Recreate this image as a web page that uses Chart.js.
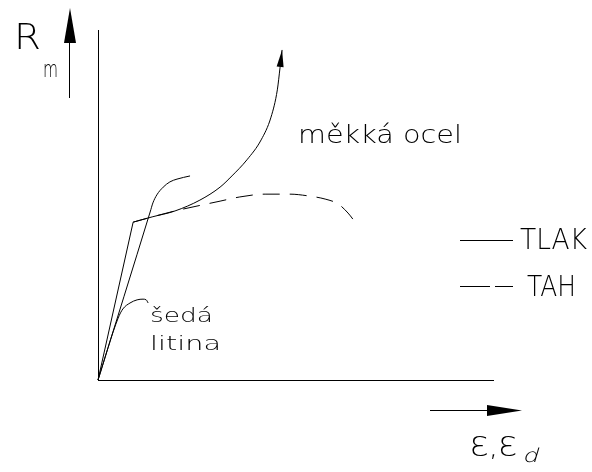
<!DOCTYPE html>
<html>
<head>
<meta charset="utf-8">
<script src="https://cdn.jsdelivr.net/npm/chart.js@4.4.1/dist/chart.umd.min.js"></script>
<style>
  html, body { margin: 0; padding: 0; background: #fff; }
  #diagram { display: block; }
</style>
</head>
<body>
<canvas id="diagram" width="592" height="472"></canvas>
<script>
// strain (x) and stress (y) in % of the axis length
const steelElasticX = [0, 8.9];
const steelElasticY = [0, 45.1];

const steelCompressionX = [8.9, 13.7, 19.5, 25.8, 30.9, 33.9, 37.7, 41.3, 43.8, 45.4, 46.1, 46.6];
const steelCompressionY = [45.1, 46.6, 48.3, 51.4, 55.1, 58.3, 62.9, 68.6, 75.1, 82.9, 89.4, 94.3];

const steelTensionX = [8.9, 13.7, 19.5, 26.3, 30.9, 35.9, 42.3, 48.6, 53.2, 57.5, 60.8, 63.3, 65.1];
const steelTensionY = [45.1, 46.6, 48.3, 50.0, 51.1, 52.3, 53.1, 53.1, 52.6, 51.7, 50.3, 47.7, 45.1];

const ironCompressionX = [0, 13.2, 13.9, 14.9, 16.5, 18.2, 20.0, 23.3];
const ironCompressionY = [0, 48.0, 50.6, 52.9, 55.1, 56.6, 57.4, 58.3];

const ironTensionX = [0, 5.1, 6.3, 8.1, 9.9, 11.4, 12.2, 12.7];
const ironTensionY = [0, 17.7, 20.3, 22.0, 22.9, 23.1, 22.9, 22.0];

const toPoints = (xs, ys) => xs.map((x, i) => ({ x: x, y: ys[i] }));

const FONT = '"DejaVu Sans", sans-serif';

/**
 * Draws text stretched to a given width, so the thin lettering
 * keeps the wide proportions of a plotter font
 */
const cadText = (ctx, str, x, y, size, width, skew) => {
  ctx.save();
  ctx.font = "200 " + size + "px " + FONT;
  ctx.textBaseline = "alphabetic";
  ctx.textAlign = "left";
  const natural = ctx.measureText(str).width;
  ctx.translate(x, y);
  if (skew) ctx.transform(1, 0, -skew, 1, 0, 0);
  ctx.scale(width / natural, 1);
  ctx.fillStyle = "#000";
  ctx.fillText(str, 0, 0);
  ctx.restore();
};

const arrowHead = (ctx, tipX, tipY, angle, len, half) => {
  ctx.save();
  ctx.translate(tipX, tipY);
  ctx.rotate(angle);
  ctx.beginPath();
  ctx.moveTo(0, 0);
  ctx.lineTo(-len, -half);
  ctx.lineTo(-len, half);
  ctx.closePath();
  ctx.fillStyle = "#000";
  ctx.fill();
  ctx.restore();
};

const line = (ctx, x1, y1, x2, y2, dash) => {
  ctx.save();
  ctx.strokeStyle = "#000";
  ctx.lineWidth = 1;
  ctx.setLineDash(dash || []);
  ctx.beginPath();
  ctx.moveTo(x1, y1);
  ctx.lineTo(x2, y2);
  ctx.stroke();
  ctx.restore();
};

// labels, axis arrows and the line-style key
const drawingExtras = {
  id: "drawingExtras",
  afterDraw(chart) {
    const ctx = chart.ctx;

    // arrow on the end of the compression curve
    const pts = chart.getDatasetMeta(1).data;
    const tip = pts[pts.length - 1];
    const prev = pts[pts.length - 2];
    arrowHead(ctx, tip.x, tip.y, Math.atan2(tip.y - prev.y, tip.x - prev.x), 17, 3.5);

    // stress arrow
    line(ctx, 69.5, 43, 69.5, 98);
    arrowHead(ctx, 70, 8, -Math.PI / 2, 35, 6);
    cadText(ctx, "R", 14, 49, 36, 27);
    cadText(ctx, "m", 43, 77, 23, 15);

    // strain arrow
    line(ctx, 430, 410.5, 488, 410.5);
    arrowHead(ctx, 522, 410.5, 0, 35, 5.5);
    cadText(ctx, "Ɛ,Ɛ", 470, 456, 27, 47);
    cadText(ctx, "d", 522, 462, 19, 16, 0.3);

    cadText(ctx, "měkká ocel", 298, 143, 24, 164);
    cadText(ctx, "šedá", 150, 322, 20, 63);
    cadText(ctx, "litina", 150, 350, 20, 71);

    // key
    line(ctx, 460, 240.5, 513, 240.5);
    cadText(ctx, "TLAK", 520, 249, 29, 67);
    line(ctx, 460, 286.5, 513, 286.5, [30, 5]);
    cadText(ctx, "TAH", 527, 296, 28, 49);
  },
};

const curve = (data, extra) => Object.assign({
  data: data,
  borderColor: "#000",
  borderWidth: 1,
  pointRadius: 0,
  fill: false,
  showLine: true,
  clip: false,
  cubicInterpolationMode: "monotone",
}, extra);

new Chart(document.getElementById("diagram"), {
  type: "scatter",
  data: {
    datasets: [
      curve(toPoints(steelElasticX, steelElasticY), { cubicInterpolationMode: "default", tension: 0 }),
      curve(toPoints(steelCompressionX, steelCompressionY)),
      curve(toPoints(steelTensionX, steelTensionY), { borderDash: [17, 10], borderDashOffset: 2.3 }),
      curve(toPoints(ironCompressionX, ironCompressionY)),
      curve(toPoints(ironTensionX, ironTensionY)),
    ],
  },
  plugins: [drawingExtras],
  options: {
    responsive: false,
    animation: false,
    events: [],
    layout: { padding: { left: 98, top: 30, right: 99, bottom: 92 } },
    plugins: {
      legend: { display: false },
      tooltip: { enabled: false },
    },
    scales: {
      x: {
        type: "linear",
        min: 0,
        max: 100,
        grid: { display: false, drawTicks: false },
        ticks: { display: false },
        border: { display: true, color: "#000", width: 1 },
      },
      y: {
        type: "linear",
        min: 0,
        max: 100,
        grid: { display: false, drawTicks: false },
        ticks: { display: false },
        border: { display: true, color: "#000", width: 1 },
      },
    },
  },
});
</script>
</body>
</html>
